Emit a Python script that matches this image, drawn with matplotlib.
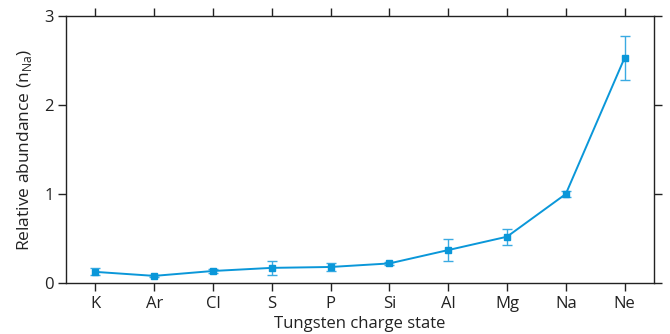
import matplotlib
matplotlib.use("Agg")
import matplotlib.pyplot as plt
import numpy as np

plt.rcParams['font.family'] = ['Open Sans', 'DejaVu Sans']

categories = ["K", "Ar", "Cl", "S", "P", "Si", "Al", "Mg", "Na", "Ne"]
values = [0.125, 0.08, 0.135, 0.17, 0.18, 0.22, 0.37, 0.52, 1.0, 2.53]
errors = [0.04, 0.01, 0.02, 0.077, 0.05, 0.015, 0.12, 0.09, 0.03, 0.25]
yticks = [0, 1, 2, 3]

color = "#0a97d9"
fig = plt.figure(figsize=(6.7, 3.34), dpi=100)
ax = fig.add_axes([66/670, 1-283/334, (654-66)/670, (283-16)/334])
x = np.arange(len(categories))
ax.errorbar(x, values, yerr=errors, color=color, lw=1.4, marker='s', ms=5,
            capsize=3.5, elinewidth=1.0, ecolor="#3aaae2", capthick=1.0)
ax.set_xlim(-0.5, len(categories) - 0.5)
ax.set_ylim(0, 3)
ax.set_xticks(x)
ax.set_xticklabels(categories)
ax.set_yticks(yticks)
ax.tick_params(direction='out', length=6, width=1, color='#222222', labelsize=12,
               top=True, right=True, labeltop=False, labelright=False, pad=3,
               labelcolor='#222222')
for s in ax.spines.values():
    s.set_color('#222222')
    s.set_linewidth(1)
ax.set_ylabel("Relative abundance (n$_{\\mathregular{Na}}$)", fontsize=12.5, color='#222222', labelpad=7)
ax.set_xlabel("Tungsten charge state", fontsize=12, color='#222222', labelpad=3)
fig.savefig("out.png", dpi=100)
